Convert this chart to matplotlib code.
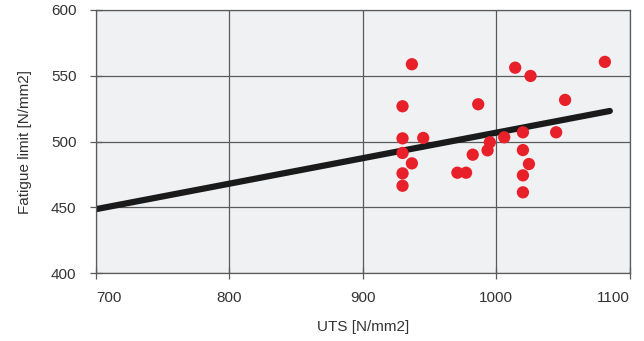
import numpy as np
import matplotlib.pyplot as plt

plt.rcParams['font.family'] = ['Liberation Sans Narrow', 'Liberation Sans', 'DejaVu Sans']

# Data
uts = [936.7, 1014.1, 1025.6, 1081.3, 929.7, 986.4, 1051.5, 929.7, 945.2,
       929.7, 936.7, 929.7, 929.7, 970.8, 977.3, 982.3, 993.4, 995.1,
       1005.9, 1019.9, 1044.8, 1019.9, 1024.4, 1019.9, 1019.9]
fatigue = [558.7, 556.1, 549.8, 560.5, 526.8, 528.3, 531.6, 502.4, 502.7,
           491.3, 483.4, 475.8, 466.4, 476.3, 476.3, 490.0, 493.3, 499.4,
           503.2, 507.0, 507.0, 493.5, 482.9, 474.3, 461.4]

# trend line end points
fit_x = [700, 1085]
fit_y = [448.6, 523.2]

fig = plt.figure(figsize=(6.44, 3.41), dpi=100)
ax = fig.add_axes([0.149, 0.199, 0.829, 0.772])
ax.set_facecolor('#f0f1f3')

ax.plot(fit_x, fit_y, color='#1a1a1a', lw=4.5, solid_capstyle='round', zorder=2)
ax.scatter(uts, fatigue, s=78, color='#e8202a', edgecolors='none', zorder=3)

ax.set_xlim(700, 1100)
ax.set_ylim(400, 600)
ax.set_xticks([700, 800, 900, 1000, 1100])
ax.set_yticks([400, 450, 500, 550, 600])
ax.grid(True, color='#5a5a5a', lw=0.9, zorder=1)
ax.set_axisbelow(True)
for s in ax.spines.values():
    s.set_color('#5a5a5a')
    s.set_linewidth(0.9)

ax.tick_params(direction='inout', length=8, width=0.9, color='#5a5a5a',
               labelsize=11, labelcolor='#333333')
ax.tick_params(axis='x', pad=9)
ax.tick_params(axis='y', pad=10)
xl = ax.get_xticklabels()
xl[0].set_horizontalalignment('left')
xl[-1].set_horizontalalignment('right')
ax.set_xlabel('UTS [N/mm2]', fontsize=11, color='#333333', labelpad=11)
ax.set_ylabel('Fatigue limit [N/mm2]', fontsize=11, color='#333333', labelpad=14)

fig.savefig('out.png', dpi=100, facecolor='white')
